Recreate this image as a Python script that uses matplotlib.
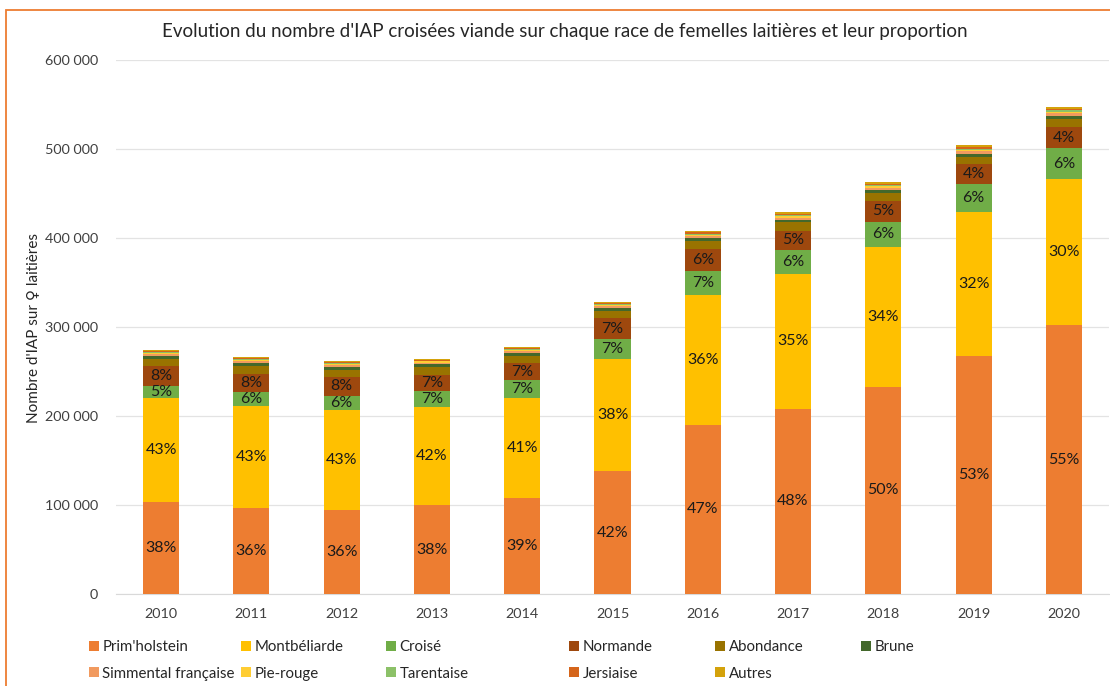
import matplotlib
matplotlib.use("Agg")
import matplotlib.pyplot as plt
from matplotlib.patches import Rectangle, Patch
from matplotlib.ticker import FuncFormatter
import numpy as np

years = ["2010", "2011", "2012", "2013", "2014", "2015", "2016", "2017", "2018", "2019", "2020"]

# values in number of IAP
prim = [103400, 96600, 94400, 100000, 107900, 138200, 189900, 207900, 232600, 267400, 302200]
montb = [116800, 114600, 112300, 110000, 112500, 126000, 145500, 151700, 157400, 161800, 164000]
croise = [13500, 15700, 16000, 18000, 19500, 22500, 27500, 26900, 28500, 32000, 34600]
normande = [22000, 20300, 21000, 18500, 19400, 23000, 24400, 21500, 23000, 21500, 24200]
abondance = [8600, 9300, 8500, 8500, 8500, 8800, 9700, 9500, 9000, 8800, 8600]
brune = [3000, 3000, 3000, 3000, 3000, 3000, 2700, 3000, 3200, 3400, 3700]
simmental = [2000, 2000, 1800, 1800, 2000, 2000, 2200, 2300, 2400, 2500, 2600]
pierouge = [1500, 1500, 1500, 1500, 1500, 1500, 1800, 1900, 2000, 2000, 2200]
tarentaise = [800, 800, 800, 800, 800, 800, 1000, 1000, 1000, 1100, 1200]
jersiaise = [1200, 1200, 1200, 1200, 1300, 1300, 1600, 1800, 1900, 2300, 2200]
autres = [1200, 1200, 1200, 1200, 1200, 1200, 1600, 1800, 1900, 2000, 1800]

# displayed percentage labels
prim_lbl = ["38%", "36%", "36%", "38%", "39%", "42%", "47%", "48%", "50%", "53%", "55%"]
montb_lbl = ["43%", "43%", "43%", "42%", "41%", "38%", "36%", "35%", "34%", "32%", "30%"]
croise_lbl = ["5%", "6%", "6%", "7%", "7%", "7%", "7%", "6%", "6%", "6%", "6%"]
normande_lbl = ["8%", "8%", "8%", "7%", "7%", "7%", "6%", "5%", "5%", "4%", "4%"]

series_names = ["Prim'holstein", "Montbéliarde", "Croisé", "Normande", "Abondance", "Brune",
                "Simmental française", "Pie-rouge", "Tarentaise", "Jersiaise", "Autres"]
series_vals = [prim, montb, croise, normande, abondance, brune,
               simmental, pierouge, tarentaise, jersiaise, autres]
series_labels = [prim_lbl, montb_lbl, croise_lbl, normande_lbl] + [None] * 7
colors = ["#ED7D31", "#FFC000", "#70AD47", "#9E480E", "#997300", "#43682B",
          "#F19A5F", "#FFCD33", "#8CC168", "#D5651B", "#D4A20B"]

plt.rcParams["font.family"] = ["Lato", "DejaVu Sans"]

fig = plt.figure(figsize=(11.10, 6.86), dpi=100)
ax = fig.add_axes([116 / 1110, 92 / 686, 993 / 1110, 534 / 686])

x = np.arange(len(years))
bottom = np.zeros(len(years))
for name, vals, col, lbls in zip(series_names, series_vals, colors, series_labels):
    vals = np.array(vals, dtype=float)
    ax.bar(x, vals, 0.40, bottom=bottom, color=col, edgecolor="none", linewidth=0, zorder=3)
    if lbls is not None:
        for xi, b, v, t in zip(x, bottom, vals, lbls):
            ax.text(xi, b + v / 2, t, ha="center", va="center", fontsize=11.5,
                    color="#1a1a1a", zorder=4)
    bottom += vals

ax.set_xlim(-0.5, len(years) - 0.5)
ax.set_ylim(0, 600000)
ax.set_yticks(np.arange(0, 600001, 100000))
ax.yaxis.set_major_formatter(FuncFormatter(lambda v, p: f"{int(v):,}".replace(",", " ")))
ax.set_xticks(x)
ax.set_xticklabels(years)
ax.grid(axis="y", color="#E3E3E3", linewidth=0.9, zorder=0)
for s in ["top", "right", "left"]:
    ax.spines[s].set_visible(False)
ax.spines["bottom"].set_color("#D9D9D9")
ax.tick_params(axis="both", length=0, labelsize=10.4, labelcolor="#404040")
ax.tick_params(axis="y", pad=13)
ax.tick_params(axis="x", pad=10)

fig.text(33 / 1110, 1 - 328 / 686, "Nombre d'IAP sur ♀ laitières", rotation=90,
         ha="center", va="center", fontsize=11, color="#262626")

fig.text(565 / 1110, 1 - 32 / 686, "Evolution du nombre d'IAP croisées viande sur chaque race de femelles laitières et leur proportion",
         ha="center", va="center", fontsize=13.5, color="#262626")

# legend columns
col_x = [89, 241, 386, 569, 715, 861]
order = [[0, 6], [1, 7], [2, 8], [3, 9], [4, 10], [5]]
for cx, idxs in zip(col_x, order):
    handles = [Patch(facecolor=colors[i], edgecolor="none") for i in idxs]
    labels = [series_names[i] for i in idxs]
    fig.legend(handles, labels, loc="upper left", bbox_to_anchor=(cx / 1110, 1 - 640 / 686),
               frameon=False, fontsize=10.8, handlelength=0.65, handleheight=0.65,
               handletextpad=0.25, labelspacing=0.85, borderpad=0, borderaxespad=0,
               labelcolor="#262626")

# outer frame
fig.patches.append(Rectangle((6 / 1110, -0.1), 1.2, 1 - 10 / 686 + 0.1, transform=fig.transFigure,
                             fill=False, edgecolor="#ED7D31", linewidth=1.3))

fig.savefig("out.png", dpi=100)
